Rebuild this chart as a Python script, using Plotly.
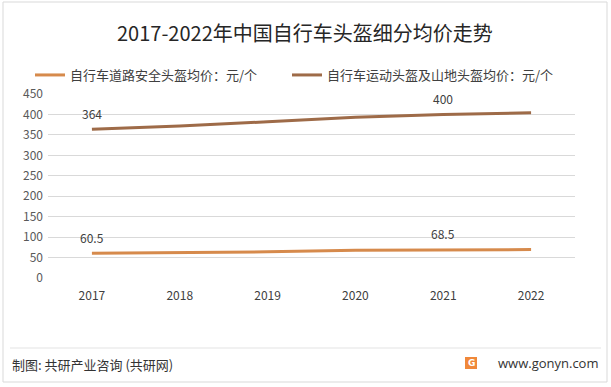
import plotly.graph_objects as go

years = [2017, 2018, 2019, 2020, 2021, 2022]
road_price = [60.5, 62, 64, 68, 68.5, 69.5]
sport_price = [364, 372, 382, 393, 400, 404]
road_labels = ["60.5", "", "", "", "68.5", ""]
sport_labels = ["364", "", "", "", "400", ""]
series_names = ["自行车道路安全头盔均价：元/个", "自行车运动头盔及山地头盔均价：元/个"]
y_ticks = [0, 50, 100, 150, 200, 250, 300, 350, 400, 450]

W, H = 611, 387
L, R, T, B = 48, 36, 94, 109
pw, ph = W - L - R, H - T - B


def px(x):
    return (x - L) / pw


def py(y):
    return (H - B - y) / ph


FONT = "Noto Sans CJK SC"
COLORS = ["#D68A4C", "#9E6B48"]
LEGENDS = ["legend", "legend2"]
fig = go.Figure()
for name, vals, col, lg in zip(series_names, [road_price, sport_price], COLORS, LEGENDS):
    fig.add_trace(go.Scatter(
        x=years, y=vals, name=name, mode="lines", legend=lg,
        line=dict(color=col, width=3), hoverinfo="x+y",
    ))

annotations = []
for vals, labels in [(road_price, road_labels), (sport_price, sport_labels)]:
    for x, v, lab in zip(years, vals, labels):
        if lab:
            annotations.append(dict(
                text=lab, x=x, y=v, xref="x", yref="y", showarrow=False,
                xanchor="center", yanchor="middle", yshift=16,
                font=dict(family=FONT, size=12, color="#404040"),
            ))

shapes = [
    dict(type="rect", xref="paper", yref="paper", x0=px(3), x1=px(607), y0=py(382), y1=py(2),
         line=dict(color="#D9D9D9", width=1), fillcolor="rgba(0,0,0,0)", layer="below"),
    dict(type="line", xref="paper", yref="paper", x0=px(10), x1=px(601), y0=py(348), y1=py(348),
         line=dict(color="#E3E3E3", width=1)),
    dict(type="rect", xref="paper", yref="paper", x0=px(465), x1=px(477), y0=py(369), y1=py(357),
         line=dict(width=0), fillcolor="#F0883A"),
]
annotations += [
    dict(text="2017-2022年中国自行车头盔细分均价走势", xref="paper", yref="paper",
         x=px(305), y=py(33), xanchor="center", yanchor="middle", showarrow=False,
         font=dict(family=FONT, size=20, color="#262626")),
    dict(text="制图: 共研产业咨询 (共研网)", xref="paper", yref="paper",
         x=px(10), y=py(364), xanchor="left", yanchor="middle", showarrow=False,
         font=dict(family=FONT, size=13, color="#333333")),
    dict(text="www.gonyn.com", xref="paper", yref="paper",
         x=px(600), y=py(363), xanchor="right", yanchor="middle", showarrow=False,
         font=dict(family="Open Sans", size=13, color="#333333")),
    dict(text="<b>G</b>", xref="paper", yref="paper",
         x=px(471), y=py(363), xanchor="center", yanchor="middle", showarrow=False,
         font=dict(family="DejaVu Sans", size=9, color="white")),
]

legend_style = dict(orientation="h", yanchor="middle", xanchor="left",
                    font=dict(family=FONT, size=13, color="#404040"),
                    bgcolor="rgba(0,0,0,0)")

fig.update_layout(
    width=W, height=H,
    margin=dict(l=L, r=R, t=T, b=B),
    paper_bgcolor="white", plot_bgcolor="white",
    font=dict(family=FONT, color="#595959"),
    showlegend=True,
    legend=dict(x=px(30), y=py(75), **legend_style),
    legend2=dict(x=px(287), y=py(75), **legend_style),
    xaxis=dict(range=[2016.5, 2022.5], tickvals=years, showgrid=False, showline=False,
               zeroline=False, ticks="", tickfont=dict(family=FONT, size=12, color="#404040"),
               ticklabelstandoff=9),
    yaxis=dict(range=[0, 450], tickvals=y_ticks, showgrid=True, gridcolor="#D9D9D9",
               gridwidth=1, zeroline=False, showline=False, ticks="",
               tickfont=dict(family=FONT, size=12, color="#595959"), ticklabelstandoff=4),
    shapes=shapes, annotations=annotations,
)

fig.write_html("out.html", config={"displayModeBar": False},
               post_script="document.body.style.margin='0';")
